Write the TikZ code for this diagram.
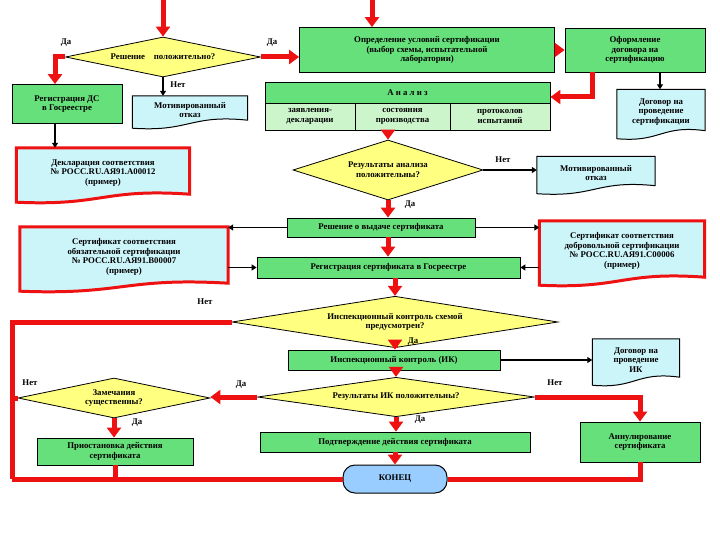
\documentclass[tikz,border=0pt]{standalone}
\usepackage{fontspec}
\setmainfont{Liberation Serif}
\usetikzlibrary{shapes.geometric, arrows.meta, positioning, backgrounds, calc}

\definecolor{boxgreen}{HTML}{66E07A}
\definecolor{lightgreen}{HTML}{CCF5CC}
\definecolor{docblue}{HTML}{CCF5FA}
\definecolor{askyellow}{HTML}{FFFF80}
\definecolor{endblue}{HTML}{99CCFF}
\definecolor{flowred}{HTML}{EE1111}

\newcommand{\docshape}[2]{%
  \begin{scope}[on background layer]
    \draw[draw=#2, line width=1pt, fill=docblue] (#1.north west) -- (#1.north east) -- ([yshift=4bp]#1.south east)
      .. controls ($(#1.south)+(0,10bp)$) and ($(#1.south)+(0,-8bp)$) .. ([yshift=-4bp]#1.south west) -- cycle;
  \end{scope}}

\begin{document}
\begin{tikzpicture}[
      x=1bp, y=-1bp,
      font=\fontsize{8.8}{9.8}\selectfont\bfseries,
      box/.style={rectangle, draw, line width=0.8pt, fill=boxgreen, align=center, inner sep=1pt},
      doc/.style={rectangle, draw=none, align=center, inner sep=1pt},
      ask/.style={diamond, draw, line width=0.8pt, fill=askyellow, aspect=4, inner sep=0pt, align=center},
      stop/.style={rectangle, rounded corners=12bp, draw, line width=1pt, fill=endblue, align=center},
      redflow/.style={draw=flowred, line width=5bp, -{Triangle[length=10bp, width=14bp]}},
      redline/.style={draw=flowred, line width=5bp},
      blk/.style={draw, line width=2pt, -{Triangle[length=5bp, width=6bp]}},
      redframe/.style={draw=flowred, line width=3pt},
      lbl/.style={inner sep=1pt}
      ]
      \useasboundingbox (0,0) rectangle (720,540);

      % Top coordinates
      \coordinate (topA) at (163,0);
      \coordinate (topB) at (372,0);

      % First decision
      \node[ask, minimum width=195bp, minimum height=40bp] (decide) at (163,57) {Решение\quad положительно?};
      \node[box, minimum width=110bp, minimum height=39bp] (regds) at (67,104) {Регистрация ДС\\в Госреестре};
      \node[doc, minimum width=115bp, minimum height=28bp] (refuse1) at (190,110) {Мотивированный\\отказ};
      \node[doc, minimum width=173bp, minimum height=50bp] (decl) at (103,173) {Декларация соответствия\\№ РОСС.RU.АЯ91.А00012\\(пример)};

      % Conditions
      \node[box, minimum width=255bp, minimum height=45bp] (cond) at (427,50) {Определение условий сертификации\\(выбор схемы, испытательной\\лаборатории)};
      \node[box, minimum width=140bp, minimum height=44bp] (contract) at (635,50) {Оформление\\договора на\\сертификацию};
      \node[doc, minimum width=88bp, minimum height=45bp] (contractdoc) at (661,112) {Договор на\\проведение\\сертификации};

      % Analysis table
      \node[box, minimum width=285bp, minimum height=21bp] (analysis) at (407.5,92.5) {А н а л и з};
      \node[box, fill=lightgreen, minimum width=90bp, minimum height=27bp] (anA) at (310,116.5) {заявления-\\декларации};
      \node[box, fill=lightgreen, minimum width=95bp, minimum height=27bp] (anB) at (402.5,116.5) {состояния\\производства};
      \node[box, fill=lightgreen, minimum width=100bp, minimum height=27bp] (anC) at (500,116.5) {протоколов\\испытаний};

      \node[ask, minimum width=190bp, minimum height=60bp] (result) at (388,170) {Результаты анализа\\положительны?};
      \node[doc, minimum width=118bp, minimum height=33bp] (refuse2) at (596,173) {Мотивированный\\отказ};

      % Certificate
      \node[box, minimum width=188bp, minimum height=19bp] (issue) at (381,227.5) {Решение о выдаче сертификата};
      \node[box, minimum width=263bp, minimum height=21bp] (register) at (388.5,267.5) {Регистрация сертификата в Госреестре};
      \node[doc, minimum width=208bp, minimum height=60bp] (certA) at (124,257) {Сертификат соответствия\\обязательной сертификации\\№ РОСС.RU.АЯ91.В00007\\(пример)};
      \node[doc, minimum width=165bp, minimum height=60bp] (certB) at (622,251) {Сертификат соответствия\\добровольной сертификации\\№ РОСС.RU.АЯ91.С00006\\(пример)};

      % Inspection
      \node[ask, minimum width=326bp, minimum height=45bp] (inspq) at (395,322) {Инспекционный контроль схемой\\предусмотрен?};
      \node[box, minimum width=212bp, minimum height=20bp] (insp) at (394,360) {Инспекционный контроль (ИК)};
      \node[doc, minimum width=87bp, minimum height=42bp] (inspdoc) at (636,360) {Договор на\\проведение\\ИК};
      \node[ask, minimum width=277bp, minimum height=36bp] (inspres) at (396,397) {Результаты ИК положительны?};
      \node[ask, minimum width=192bp, minimum height=40bp] (remarks) at (114,398) {Замечания\\существенны?};
      \node[box, minimum width=156bp, minimum height=27bp] (suspend) at (115,451.5) {Приостановка действия\\сертификата};
      \node[box, minimum width=270bp, minimum height=20bp] (confirm) at (395,442) {Подтверждение действия сертификата};
      \node[box, minimum width=120bp, minimum height=40bp] (cancel) at (640,442) {Аннулирование\\сертификата};
      \node[stop, minimum width=104bp, minimum height=28bp] (finish) at (395,479) {КОНЕЦ};

      % Document outlines
      \docshape{refuse1}{black}
      \docshape{decl}{black}
      \docshape{contractdoc}{black}
      \docshape{refuse2}{black}
      \docshape{certA}{black}
      \docshape{certB}{black}
      \docshape{inspdoc}{black}
      \begin{scope}[on background layer]
        \draw[redframe] (decl.north west) -- (decl.north east) -- ([yshift=4bp]decl.south east)
          .. controls ($(decl.south)+(0,10bp)$) and ($(decl.south)+(0,-8bp)$) .. ([yshift=-4bp]decl.south west) -- cycle;
        \draw[redframe] (certA.north west) -- (certA.north east) -- ([yshift=4bp]certA.south east)
          .. controls ($(certA.south)+(0,10bp)$) and ($(certA.south)+(0,-8bp)$) .. ([yshift=-4bp]certA.south west) -- cycle;
        \draw[redframe] (certB.north west) -- (certB.north east) -- ([yshift=4bp]certB.south east)
          .. controls ($(certB.south)+(0,10bp)$) and ($(certB.south)+(0,-8bp)$) .. ([yshift=-4bp]certB.south west) -- cycle;
      \end{scope}

      % Helper coordinates
      \coordinate (daleft) at (55,57);
      \coordinate (turnA) at (592,97);
      \coordinate (leftup) at (12,322);
      \coordinate (leftmid) at (12,398);
      \coordinate (leftdown) at (12,479);
      \coordinate (declx) at (55,0);
      \coordinate (contx) at (660,0);

      % Red flow
      \draw[redflow] (topA) -- (decide.north);
      \draw[redflow] (topB) -- (topB |- cond.north);
      \draw[redflow] (decide.west) -- (daleft) -- (daleft |- regds.north);
      \draw[redflow] (decide.east) -- (cond.west |- decide.east);
      \draw[redflow] (cond.east) -- (contract.west);
      \draw[redflow] (turnA |- contract.south) -- (turnA) -- (turnA -| analysis.east);
      \draw[redflow] (result.north |- anB.south) -- (result.north);
      \draw[redflow] (result.south) -- (issue.north -| result.south);
      \draw[redflow] (issue.south -| result.south) -- (register.north -| result.south);
      \draw[redflow] (register.south -| inspq.north) -- (inspq.north);
      \draw[redflow] (inspq.south) -- (insp.north -| inspq.south);
      \draw[redflow] (insp.south -| inspres.north) -- (inspres.north);
      \draw[redflow] (inspres.west) -- (remarks.east |- inspres.west);
      \draw[redflow] (remarks.south) -- (suspend.north -| remarks.south);
      \draw[redflow] (inspres.south) -- (confirm.north -| inspres.south);
      \draw[redflow] (confirm.south -| finish.north) -- (finish.north);
      \draw[redflow] (inspres.east) -| (cancel.north);
      \draw[redline] (inspq.west) -- (leftup) -- (leftdown);
      \draw[redline] (remarks.west) -- (leftmid);
      \draw[redline] (suspend.south) -- (suspend.south |- leftdown);
      \draw[redline] (finish.west) -- (leftdown);
      \draw[redline] (cancel.south) |- (finish.east);

      % Black flow
      \draw[blk] (decide.south) -- (refuse1.north -| decide.south);
      \draw[blk] (declx |- regds.south) -- (declx |- decl.north);
      \draw[blk] (contx |- contract.south) -- (contx |- contractdoc.north);
      \draw[blk] (result.east) -- (refuse2.west |- result.east);
      \draw[blk] (issue.west) -- (certA.east |- issue.west);
      \draw[blk] (issue.east) -- (certB.west |- issue.east);
      \draw[blk] (certA.east |- register.west) -- (register.west);
      \draw[blk] (certB.west |- register.east) -- (register.east);
      \draw[blk] (insp.east) -- (inspdoc.west);

      % Labels
      \node[lbl] (l1) at (66,43) {Да};
      \node[lbl] (l2) at (272,43) {Да};
      \node[lbl] (l3) at (178,85) {Нет};
      \node[lbl] (l4) at (503,160) {Нет};
      \node[lbl] (l5) at (410,205) {Да};
      \node[lbl] (l6) at (205,302) {Нет};
      \node[lbl] (l7) at (413,342) {Да};
      \node[lbl] (l8) at (241,385) {Да};
      \node[lbl] (l9) at (555,383) {Нет};
      \node[lbl] (l10) at (30,383) {Нет};
      \node[lbl] (l11) at (137,423) {Да};
      \node[lbl] (l12) at (420,420) {Да};
\end{tikzpicture}
\end{document}
